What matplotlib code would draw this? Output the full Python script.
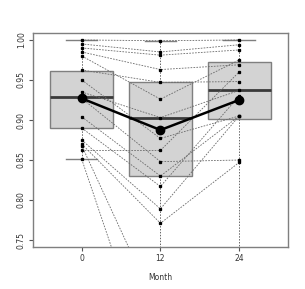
import matplotlib
matplotlib.use("Agg")
import matplotlib.pyplot as plt
import numpy as np

# months and tick labels
months = ["0", "12", "24"]

# box summaries (per month)
whisk_lo = [0.851, 0.55, 0.60]
q1 = [0.890, 0.830, 0.901]
med = [0.929, 0.903, 0.937]
q3 = [0.961, 0.947, 0.973]
whisk_hi = [1.000, 0.999, 1.000]

# mean line
mean_vals = [0.927, 0.8875, 0.925]

# individual trajectories (month 0, 12, 24)
subj_m0 = [1.000, 0.995, 0.990, 0.980, 0.985, 0.9625, 0.950, 0.935, 0.927, 0.904, 0.890, 0.875, 0.862, 0.870, 0.851, 0.868]
subj_m12 = [0.999, 0.985, 0.981, 0.926, 0.963, 0.947, 0.877, 0.903, 0.848, 0.830, 0.817, 0.789, 0.862, 0.771, 0.560, 0.655]
subj_m24 = [1.000, 0.994, 0.9875, 0.975, 0.969, 0.948, 0.905, 0.937, 0.850, 0.905, 0.930, 0.905, 0.960, 0.847, 0.600, 0.650]

fig = plt.figure(figsize=(3.05, 2.89), dpi=100)
ax = fig.add_axes([0.108, 0.145, 0.836, 0.741])

pos = np.arange(len(months))

stats = []
for i in range(len(months)):
    stats.append({"whislo": whisk_lo[i], "q1": q1[i], "med": med[i],
                  "q3": q3[i], "whishi": whisk_hi[i], "fliers": []})

ax.bxp(stats, positions=pos, widths=0.8, patch_artist=True,
       boxprops=dict(facecolor="#d3d3d3", edgecolor="#7f7f7f", linewidth=1.0),
       medianprops=dict(color="#3a3a3a", linewidth=2.0),
       whiskerprops=dict(color="#666666", linestyle=(0, (1.5, 1.5)), linewidth=0.7),
       capprops=dict(color="#7f7f7f", linewidth=1.0),
       capwidths=0.4, zorder=1)

# subject lines
for a, b, c in zip(subj_m0, subj_m12, subj_m24):
    ax.plot(pos, [a, b, c], color="#6a6a6a", linestyle=(0, (2, 1.5)),
            linewidth=0.6, marker="s", markersize=1.4,
            markerfacecolor="black", markeredgecolor="black", zorder=2)

# mean line
ax.plot(pos, mean_vals, color="black", linewidth=1.8, marker="o",
        markersize=6, zorder=3)

ax.set_xlim(-0.62, 2.62)
ax.set_ylim(0.74125, 1.00875)
ax.set_xticks(pos)
ax.set_xticklabels(months)
ax.set_yticks([0.75, 0.80, 0.85, 0.90, 0.95, 1.00])
ax.set_yticklabels(["0.75", "0.80", "0.85", "0.90", "0.95", "1.00"],
                   rotation=90, va="center")
ax.tick_params(labelsize=5.5, length=3, width=0.8, color="#555555",
               labelcolor="#333333", pad=2)
ax.set_xlabel("Month", fontsize=5.5, color="#333333", labelpad=7)
for s in ax.spines.values():
    s.set_color("#7f7f7f")
    s.set_linewidth(1.0)

fig.savefig("out.png", dpi=100)
